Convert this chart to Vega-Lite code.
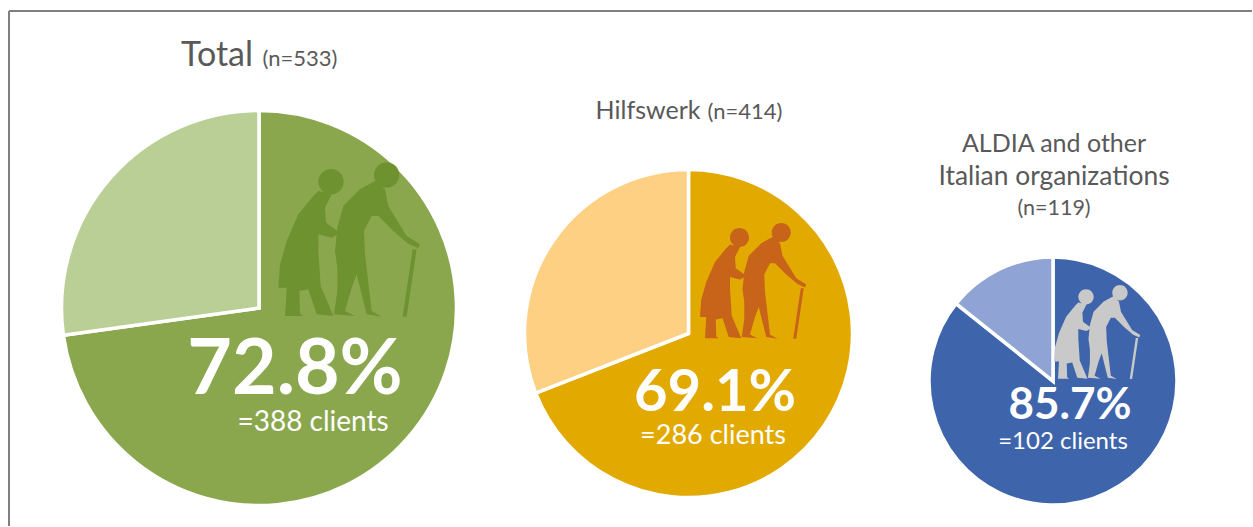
{"$schema":"https://vega.github.io/schema/vega-lite/v6.json","width":1253,"height":527,"autosize":{"type":"fit","contains":"padding"},"padding":{"left":8,"top":10,"right":0,"bottom":0},"background":"white","config":{"view":{"stroke":null},"text":{"font":"Lato"}},
"datasets":{"slices":[
{"group":"Total","n":533,"share":"clients","series":"Total clients","clients":388,"rank":1},
{"group":"Total","n":533,"share":"others","series":"Total others","clients":145,"rank":2},
{"group":"Hilfswerk","n":414,"share":"clients","series":"Hilfswerk clients","clients":286,"rank":1},
{"group":"Hilfswerk","n":414,"share":"others","series":"Hilfswerk others","clients":128,"rank":2},
{"group":"ALDIA","n":119,"share":"clients","series":"ALDIA clients","clients":102,"rank":1},
{"group":"ALDIA","n":119,"share":"others","series":"ALDIA others","clients":17,"rank":2}],
"labels":[
{"id":1,"label":"Total","kind":"plain"},{"id":2,"label":"(n=533)","kind":"plain"},{"id":3,"label":"Hilfswerk","kind":"plain"},{"id":4,"label":"(n=414)","kind":"plain"},{"id":5,"label":"ALDIA and other","kind":"plain"},{"id":6,"label":"Italian organizations","kind":"plain"},{"id":7,"label":"(n=119)","kind":"plain"},
{"id":8,"label":"=388 clients","kind":"inner"},{"id":9,"label":"=286 clients","kind":"inner"},{"id":10,"label":"=102 clients","kind":"inner"},
{"id":11,"label":"72.8%","kind":"pct"},{"id":12,"label":"69.1%","kind":"pct"},{"id":13,"label":"85.7%","kind":"pct"}]},
"layer":[
{"data":{"name":"slices"},"transform":[{"filter":"datum.group==='Total'"}],"mark":{"type":"arc","outerRadius":197.5,"stroke":"white","strokeWidth":3.5},"encoding":{"theta":{"field":"clients","type":"quantitative","stack":"normalize"},"order":{"field":"rank"},"color":{"field":"series","type":"nominal","legend":null,"scale":{"domain":["Total clients","Total others","Hilfswerk clients","Hilfswerk others","ALDIA clients","ALDIA others"],"range":["#8aa74e","#b9cf96","#e2a900","#fed083","#3e65ac","#8fa3d5"]}},"x":{"field":"n","type":"quantitative","axis":null,"scale":{"domain":[119,414,533],"range":[1044,679.5,250]}},"y":{"field":"n","type":"quantitative","axis":null,"scale":{"domain":[119,414,533],"range":[370,322.5,297]}}}},
{"data":{"name":"slices"},"transform":[{"filter":"datum.group==='Hilfswerk'"}],"mark":{"type":"arc","outerRadius":164,"stroke":"white","strokeWidth":3.5},"encoding":{"theta":{"field":"clients","type":"quantitative","stack":"normalize"},"order":{"field":"rank"},"color":{"field":"series","type":"nominal","legend":null,"scale":{"domain":["Total clients","Total others","Hilfswerk clients","Hilfswerk others","ALDIA clients","ALDIA others"],"range":["#8aa74e","#b9cf96","#e2a900","#fed083","#3e65ac","#8fa3d5"]}},"x":{"field":"n","type":"quantitative","axis":null,"scale":{"domain":[119,414,533],"range":[1044,679.5,250]}},"y":{"field":"n","type":"quantitative","axis":null,"scale":{"domain":[119,414,533],"range":[370,322.5,297]}}}},
{"data":{"name":"slices"},"transform":[{"filter":"datum.group==='ALDIA'"}],"mark":{"type":"arc","outerRadius":124,"stroke":"white","strokeWidth":3.5},"encoding":{"theta":{"field":"clients","type":"quantitative","stack":"normalize"},"order":{"field":"rank"},"color":{"field":"series","type":"nominal","legend":null,"scale":{"domain":["Total clients","Total others","Hilfswerk clients","Hilfswerk others","ALDIA clients","ALDIA others"],"range":["#8aa74e","#b9cf96","#e2a900","#fed083","#3e65ac","#8fa3d5"]}},"x":{"field":"n","type":"quantitative","axis":null,"scale":{"domain":[119,414,533],"range":[1044,679.5,250]}},"y":{"field":"n","type":"quantitative","axis":null,"scale":{"domain":[119,414,533],"range":[370,322.5,297]}}}},
{"data":{"name":"slices"},"transform":[{"filter":"datum.share==='clients'"}],"mark":{"type":"point","filled":true,"opacity":1,"shape":"M-92,-178a38,38 0 1,0 76,0a38,38 0 1,0 -76,0ZM-92,-150L-107,-135L-152,-80L-187,0L-207,70L-212,140L-187,140L-192,225L-137,225L-147,218L-149,150L-122,145L-97,220L-47,225L-85,135L-92,30L-92,-20L-52,-10L-27,-25L-69,-55L-72,-100L-52,-140ZM75,-198a38,38 0 1,0 76,0a38,38 0 1,0 -76,0ZM78,-180L33,-155L-17,-105L-35,-40L-42,30L-35,80L-35,150L-45,220L18,225L-12,210L8,140L23,100L53,220L98,227L68,210L48,40L45,-30L68,-75L88,-75L133,-30L178,8L208,22L213,10L173,-15L118,-105L108,-155ZM191,25L203,25L173,227L161,227Z"},"encoding":{"x":{"field":"n","type":"quantitative","axis":null,"scale":{"domain":[119,414,533],"range":[1088,744,340]}},"y":{"field":"n","type":"quantitative","axis":null,"scale":{"domain":[119,414,533],"range":[322,271,230]}},"size":{"field":"n","type":"quantitative","legend":null,"scale":{"domain":[119,414,533],"range":[0.165,0.25,0.444],"zero":false}},"color":{"field":"group","type":"nominal","legend":null,"scale":{"domain":["Total","Hilfswerk","ALDIA"],"range":["#6e9230","#c8641a","#c9c9c9"]}}}},
{"data":{"name":"labels"},"transform":[{"filter":"datum.kind!=='pct'"}],"mark":{"type":"text","align":"center","baseline":"middle","font":"Lato"},"encoding":{"text":{"field":"label"},
"x":{"field":"id","type":"quantitative","axis":null,"scale":{"domain":[1,2,3,4,5,6,7,8,9,10],"range":[208,291,639,736,1045,1045,1045,304,704,1054]}},
"y":{"field":"id","type":"quantitative","axis":null,"scale":{"domain":[1,2,3,4,5,6,7,8,9,10],"range":[45,48,100,101,133,166,198,412,425,431]}},
"size":{"field":"id","type":"quantitative","legend":null,"scale":{"domain":[1,2,3,4,5,6,7,8,9,10],"range":[34,22,25,22,25,26.4,21.5,28,27,24],"zero":false}},
"color":{"field":"kind","type":"nominal","legend":null,"scale":{"domain":["plain","inner"],"range":["#595959","#ffffff"]}}}},
{"data":{"name":"labels"},"transform":[{"filter":"datum.kind==='pct'"}],"mark":{"type":"text","align":"center","baseline":"middle","font":"Lato","fontWeight":"bold","color":"white"},"encoding":{"text":{"field":"label"},
"x":{"field":"id","type":"quantitative","axis":null,"scale":{"domain":[11,12,13],"range":[286,706,1061]}},
"y":{"field":"id","type":"quantitative","axis":null,"scale":{"domain":[11,12,13],"range":[360,383,395]}},
"size":{"field":"id","type":"quantitative","legend":null,"scale":{"domain":[11,12,13],"range":[77,58,44],"zero":false}}}},
{"data":{"values":[{}]},"mark":{"type":"rule","color":"#7f7f7f","strokeWidth":2},"encoding":{"x":{"datum":0,"type":"quantitative","axis":null,"scale":{"domain":[0,1]}}}},
{"data":{"values":[{}]},"mark":{"type":"rule","color":"#7f7f7f","strokeWidth":2},"encoding":{"y":{"datum":1,"type":"quantitative","axis":null,"scale":{"domain":[0,1]}}}}
],
"resolve":{"scale":{"x":"independent","y":"independent","size":"independent","color":"independent","theta":"independent"}}}
